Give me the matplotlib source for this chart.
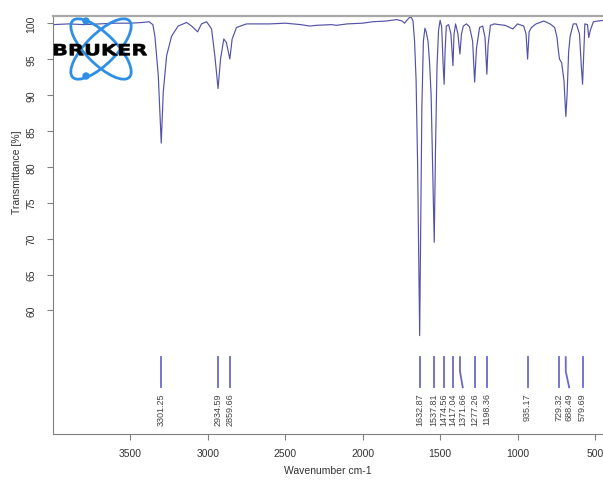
# IR spectrum (Bruker style) - transmittance vs wavenumber
import matplotlib
matplotlib.use("Agg")
import matplotlib.pyplot as plt
from matplotlib.patches import Ellipse, Circle, PathPatch
from matplotlib.textpath import TextPath
from matplotlib.font_manager import FontProperties
from matplotlib.transforms import Affine2D

# spectrum: wavenumber (cm-1) and transmittance (%)
wavenumber = [4000, 3900, 3800, 3700, 3600, 3500, 3420, 3380, 3355, 3342, 3320,
              3301, 3288, 3266, 3234, 3192, 3137, 3105, 3066, 3041, 3008, 2976,
              2955, 2934, 2918, 2897, 2880, 2858, 2843, 2815, 2750, 2600, 2500,
              2400, 2342, 2300, 2200, 2170, 2100, 2000, 1935, 1850, 1780, 1745,
              1729, 1715, 1697, 1686, 1675, 1665, 1655, 1645, 1638, 1632, 1626,
              1618, 1608, 1598, 1590, 1578, 1568, 1558, 1548, 1538, 1530, 1520,
              1510, 1500, 1490, 1480, 1474, 1468, 1460, 1445, 1430, 1417, 1410,
              1400, 1385, 1372, 1362, 1350, 1330, 1310, 1290, 1277, 1265, 1245,
              1225, 1210, 1198, 1190, 1175, 1150, 1120, 1080, 1050, 1030, 1000,
              960, 945, 935, 925, 910, 880, 830, 790, 760, 745, 735, 729, 715,
              700, 688, 680, 670, 660, 640, 620, 600, 588, 580, 574, 565, 548,
              540, 530, 510, 480, 445]
transmittance = [99.8, 99.9, 99.8, 99.9, 100.0, 100.0, 100.1, 100.2, 99.8, 98.2, 92.7,
                 83.3, 90.4, 95.5, 98.2, 99.6, 100.1, 99.6, 98.8, 99.9, 100.2, 99.2,
                 95.5, 90.9, 95.0, 97.8, 97.3, 95.0, 97.8, 99.4, 99.9, 99.9, 100.0,
                 99.8, 99.6, 99.7, 99.8, 99.7, 99.9, 100.0, 100.2, 100.3, 100.5, 100.3,
                 100.0, 100.4, 100.8, 100.8, 100.3, 97.5, 92.0, 80.0, 68.0, 56.5, 70.0,
                 88.0, 97.5, 99.3, 98.8, 97.5, 94.5, 90.0, 80.0, 69.5, 82.0, 94.0,
                 99.0, 100.4, 99.5, 94.0, 91.5, 96.0, 99.6, 99.8, 98.5, 94.1, 98.5,
                 99.9, 98.5, 95.7, 98.5, 99.6, 99.9, 99.5, 97.5, 91.8, 96.5, 99.4,
                 99.6, 98.0, 92.9, 97.0, 99.7, 99.9, 99.8, 99.7, 99.4, 99.2, 99.9,
                 99.6, 98.5, 95.0, 98.8, 99.4, 99.9, 100.3, 99.9, 99.4, 98.0, 96.0, 95.0, 94.5,
                 92.0, 87.0, 90.0, 96.0, 98.2, 99.9, 99.9, 98.5, 94.0, 91.5, 95.0, 99.9, 99.8,
                 98.0, 99.0, 100.2, 100.3, 100.4]

# picked peaks
peaks = [3301.25, 2934.59, 2859.66, 1632.87, 1537.81, 1474.56, 1417.04,
         1371.66, 1277.26, 1198.36, 935.17, 729.32, 688.49, 579.69]
peak_labels = ["3301.25", "2934.59", "2859.66", "1632.87", "1537.81", "1474.56",
               "1417.04", "1371.66", "1277.26", "1198.36", "935.17", "729.32",
               "688.49", "579.69"]
label_shift = [0, 0, 0, 0, 0, 0, 0, -18, 0, 0, 0, 0, -22, 0]

fig = plt.figure(figsize=(6.03, 4.81), dpi=100)
ax = fig.add_axes([53/603, 1-435/481, 1-53/603, (435-17)/481])

ax.plot(wavenumber, transmittance, color="#5252aa", lw=0.85)

# peak marks and labels
for wn, lab, dx in zip(peaks, peak_labels, label_shift):
    ax.plot([wn, wn, wn + dx], [53.5, 51.5, 49.3], color="#6a6ac4", lw=1.3)
    ax.text(wn + dx, 48.6, lab, rotation=90, ha="center", va="top",
            fontsize=6.5, color="#444444", family="Liberation Sans")

ax.set_xlim(4000, 448)
ax.set_ylim(42.8, 101)
ax.set_xticks([3500, 3000, 2500, 2000, 1500, 1000, 500])
ax.set_yticks([60, 65, 70, 75, 80, 85, 90, 95, 100])

for s in ["left", "bottom"]:
    ax.spines[s].set_color("#808080")
ax.spines["top"].set_color("#a8a8a8")
ax.spines["top"].set_linewidth(1.6)
ax.spines["right"].set_visible(False)

ax.tick_params(direction="out", length=4, color="#808080", labelsize=7.5,
               labelcolor="#333333")
ax.tick_params(axis="x", pad=6)
ax.tick_params(axis="y", pad=8, labelrotation=90)
for lbl in ax.get_yticklabels() + ax.get_xticklabels():
    lbl.set_family("Liberation Sans")
for lbl in ax.get_yticklabels():
    lbl.set_va("center")

ax.set_xlabel("Wavenumber cm-1", fontsize=7.5, color="#333333",
              family="Liberation Sans", labelpad=5)
ax.set_ylabel("Transmittance [%]", fontsize=7.5, color="#333333",
              family="Liberation Sans")
ax.yaxis.set_label_coords(-0.056, 0.629)

# Bruker logo, drawn in pixel coordinates
logo = fig.add_axes([0, 0, 1, 1], zorder=5)
logo.set_xlim(0, 603)
logo.set_ylim(481, 0)
logo.axis("off")
logo.patch.set_alpha(0)
blue = "#2f8fe6"
logo.add_patch(Ellipse((101, 50), 80, 30, angle=45, fill=False, ec=blue, lw=2))
logo.add_patch(Ellipse((101, 50), 80, 30, angle=-45, fill=False, ec=blue, lw=2))
logo.add_patch(Circle((86, 22), 3, color=blue))
logo.add_patch(Circle((86, 77), 3, color=blue))
tp = TextPath((0, 0), "BRUKER", size=1,
              prop=FontProperties(family="DejaVu Sans", weight="bold"))
bb = tp.get_extents()
tr = Affine2D().translate(-bb.x0, -bb.y0).scale(93/bb.width, -11.5/bb.height).translate(54, 56.5)
logo.add_patch(PathPatch(tr.transform_path(tp), fc="black", ec="black", lw=0.4))

fig.savefig("out.png", dpi=100)
